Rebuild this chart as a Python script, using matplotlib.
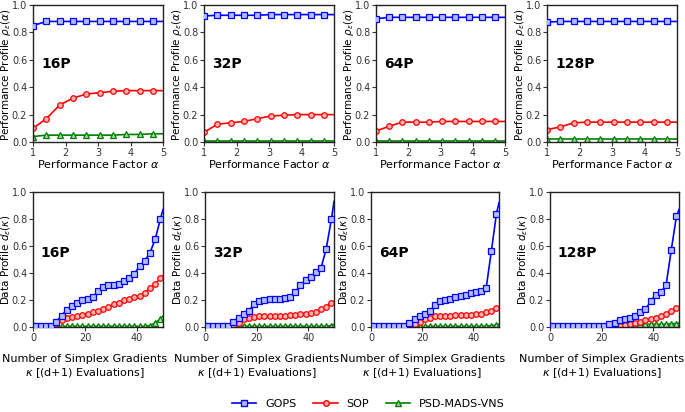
import matplotlib
matplotlib.use("Agg")
import matplotlib.pyplot as plt
from matplotlib.lines import Line2D

# performance profiles (top row)
alpha = [1.0, 1.41, 1.82, 2.23, 2.64, 3.05, 3.46, 3.87, 4.28, 4.69, 5.0]

perf_gops = {
    "16P": [0.85, 0.88, 0.88, 0.88, 0.88, 0.88, 0.88, 0.88, 0.88, 0.88, 0.88],
    "32P": [0.92, 0.925, 0.925, 0.925, 0.925, 0.93, 0.93, 0.93, 0.93, 0.93, 0.93],
    "64P": [0.90, 0.91, 0.91, 0.91, 0.91, 0.91, 0.91, 0.91, 0.91, 0.91, 0.91],
    "128P": [0.875, 0.88, 0.88, 0.88, 0.88, 0.88, 0.88, 0.88, 0.88, 0.88, 0.88],
}
perf_sop = {
    "16P": [0.10, 0.17, 0.27, 0.32, 0.35, 0.36, 0.37, 0.375, 0.375, 0.375, 0.375],
    "32P": [0.07, 0.13, 0.14, 0.15, 0.17, 0.19, 0.195, 0.20, 0.20, 0.20, 0.20],
    "64P": [0.08, 0.115, 0.145, 0.145, 0.145, 0.15, 0.15, 0.15, 0.15, 0.15, 0.15],
    "128P": [0.09, 0.11, 0.14, 0.145, 0.145, 0.145, 0.145, 0.145, 0.145, 0.145, 0.145],
}
perf_psd = {
    "16P": [0.04, 0.05, 0.05, 0.05, 0.05, 0.05, 0.05, 0.055, 0.055, 0.06, 0.06],
    "32P": [0.007] * 11,
    "64P": [0.01] * 11,
    "128P": [0.02] * 11,
}

# data profiles (bottom row)
kappa = [0, 1, 3, 5, 7, 9, 11, 13, 15, 17, 19, 21, 23, 25, 27, 29, 31, 33, 35,
         37, 39, 41, 43, 45, 47, 49, 50]

data_gops = {
    "16P": [0.01, 0.01, 0.01, 0.01, 0.01, 0.04, 0.085, 0.127, 0.156, 0.18, 0.20, 0.21, 0.22,
            0.266, 0.30, 0.31, 0.31, 0.32, 0.34, 0.366, 0.395, 0.45, 0.49, 0.55, 0.65, 0.80, 0.87],
    "32P": [0.01, 0.01, 0.01, 0.01, 0.01, 0.01, 0.04, 0.07, 0.10, 0.12, 0.17, 0.19, 0.20,
            0.205, 0.21, 0.21, 0.215, 0.22, 0.26, 0.31, 0.35, 0.37, 0.41, 0.44, 0.58, 0.80, 0.93],
    "64P": [0.01, 0.01, 0.01, 0.01, 0.01, 0.01, 0.01, 0.01, 0.03, 0.06, 0.08, 0.10, 0.12,
            0.16, 0.19, 0.20, 0.21, 0.22, 0.23, 0.24, 0.25, 0.26, 0.27, 0.29, 0.56, 0.84, 0.92],
    "128P": [0.01, 0.01, 0.01, 0.01, 0.01, 0.01, 0.01, 0.01, 0.01, 0.01, 0.01, 0.01, 0.02,
             0.03, 0.05, 0.06, 0.07, 0.08, 0.11, 0.13, 0.19, 0.24, 0.26, 0.31, 0.57, 0.82, 0.87],
}
data_sop = {
    "16P": [0.01, 0.01, 0.01, 0.01, 0.01, 0.03, 0.05, 0.07, 0.075, 0.08, 0.09, 0.10, 0.11,
            0.12, 0.13, 0.15, 0.17, 0.18, 0.20, 0.21, 0.22, 0.23, 0.25, 0.29, 0.32, 0.36, 0.38],
    "32P": [0.005, 0.005, 0.005, 0.005, 0.005, 0.005, 0.01, 0.03, 0.06, 0.07, 0.075, 0.08, 0.08,
            0.08, 0.085, 0.085, 0.085, 0.09, 0.09, 0.10, 0.10, 0.105, 0.11, 0.13, 0.15, 0.18, 0.19],
    "64P": [0.005, 0.005, 0.005, 0.005, 0.005, 0.005, 0.005, 0.005, 0.01, 0.02, 0.04, 0.06, 0.07,
            0.08, 0.08, 0.085, 0.085, 0.09, 0.09, 0.09, 0.09, 0.095, 0.10, 0.11, 0.12, 0.14, 0.15],
    "128P": [0.005, 0.005, 0.005, 0.005, 0.005, 0.005, 0.005, 0.005, 0.005, 0.005, 0.005, 0.005, 0.005,
             0.005, 0.01, 0.015, 0.02, 0.03, 0.04, 0.05, 0.06, 0.07, 0.08, 0.10, 0.12, 0.14, 0.15],
}
data_psd = {
    "16P": [0.005] * 23 + [0.01, 0.03, 0.06, 0.08],
    "32P": [0.005] * 25 + [0.01, 0.02],
    "64P": [0.005] * 24 + [0.01, 0.015, 0.02],
    "128P": [0.005] * 12 + [0.01, 0.01, 0.015, 0.015, 0.015, 0.02, 0.02, 0.02, 0.02,
                            0.02, 0.02, 0.02, 0.025, 0.025, 0.03],
}

labels = ["16P", "32P", "64P", "128P"]
names = ["GOPS", "SOP", "PSD-MADS-VNS"]
colors = ["#0000ff", "#ff0000", "#008000"]
faces = ["#b4bcff", "#ffb4b4", "#a8d4a8"]
markers = ["s", "o", "^"]

W, H = 685, 412
fig = plt.figure(figsize=(W / 100, H / 100), dpi=100)
plt.rcParams["font.size"] = 8


def px_axes(x0, x1, y0, y1):
    return fig.add_axes([x0 / W, 1 - y1 / H, (x1 - x0) / W, (y1 - y0) / H])


def style(ax):
    for s in ax.spines.values():
        s.set_color("#222222")
        s.set_linewidth(1.0)
    ax.tick_params(direction="out", length=3, width=0.8, labelsize=7,
                   colors="#333333", pad=1.2)
    ax.set_ylim(0, 1)
    ax.set_yticks([0, 0.2, 0.4, 0.6, 0.8, 1.0])


top_x = [(33, 163), (204, 334), (376, 505), (547, 677)]
bot_x = [(33, 163), (205, 334), (371, 499), (550, 679)]

for i, lab in enumerate(labels):
    ax = px_axes(top_x[i][0], top_x[i][1], 5, 142)
    series = [perf_gops[lab], perf_sop[lab], perf_psd[lab]]
    for j in range(3):
        ax.plot(alpha, series[j], color=colors[j], lw=1.2, marker=markers[j],
                ms=4, mfc=faces[j], mec=colors[j], mew=0.9,
                markevery=list(range(10)), zorder=3 - j)
    ax.set_xlim(1, 5)
    ax.set_xticks([1, 2, 3, 4, 5])
    style(ax)
    ax.set_xlabel(r"Performance Factor $\alpha$", fontsize=8, labelpad=0)
    ax.set_ylabel(r"Performance Profile $\rho_\varepsilon(\alpha)$", fontsize=7.5)
    ax.yaxis.set_label_coords(-20 / 130, 0.49)
    ax.text(1.25, 0.57, lab, fontsize=10, fontweight="bold", va="center")

    ax = px_axes(bot_x[i][0], bot_x[i][1], 192, 327)
    series = [data_gops[lab], data_sop[lab], data_psd[lab]]
    for j in range(3):
        ax.plot(kappa, series[j], color=colors[j], lw=1.2, marker=markers[j],
                ms=4, mfc=faces[j], mec=colors[j], mew=0.9,
                markevery=list(range(26)), zorder=3 - j)
    ax.set_xlim(0, 50)
    ax.set_xticks([0, 20, 40])
    style(ax)
    ax.set_xlabel("Number of Simplex Gradients\n" + r"$\kappa$ [(d+1) Evaluations]",
                  fontsize=8)
    ax.xaxis.set_label_coords(0.4, -0.2, transform=ax.transAxes)
    ax.xaxis.label.set_va("top")
    ax.set_ylabel(r"Data Profile $d_\varepsilon(\kappa)$", fontsize=7.5)
    ax.yaxis.set_label_coords(-20 / 130, 0.5)
    ax.text(3, 0.55, lab, fontsize=10, fontweight="bold", va="center")

handles = [Line2D([], [], color=colors[j], lw=1.2, marker=markers[j], ms=4,
                  mfc=faces[j], mec=colors[j]) for j in range(3)]
fig.legend(handles, names, loc="center", bbox_to_anchor=(0.538, 0.02), ncol=3,
           frameon=False, fontsize=8, columnspacing=1.5, handlelength=2.2)

fig.savefig("out.png", dpi=100)
